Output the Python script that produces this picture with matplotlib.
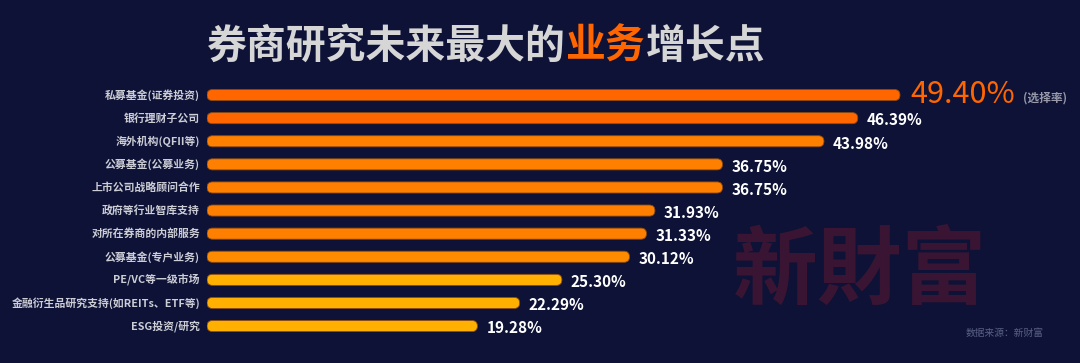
import matplotlib
matplotlib.use("Agg")
import matplotlib.pyplot as plt
from matplotlib.patches import FancyBboxPatch

plt.rcParams['font.family'] = ['Noto Sans CJK SC', 'DejaVu Sans']

categories = ["私募基金(证券投资)", "银行理财子公司", "海外机构(QFII等)", "公募基金(公募业务)",
              "上市公司战略顾问合作", "政府等行业智库支持", "对所在券商的内部服务", "公募基金(专户业务)",
              "PE/VC等一级市场", "金融衍生品研究支持(如REITs、ETF等)", "ESG投资/研究"]
values = [49.40, 46.39, 43.98, 36.75, 36.75, 31.93, 31.33, 30.12, 25.30, 22.29, 19.28]
bar_colors = ["#FF6600", "#FF6600", "#FF8000", "#FF8000", "#FF8000", "#FF8000", "#FF8000",
              "#FF8C00", "#FFB000", "#FFB000", "#FFB000"]

num_family = ['Noto Sans CJK SC', 'DejaVu Sans']

BG = "#0d1236"
W, H = 1080, 363
fig = plt.figure(figsize=(W / 100, H / 100), dpi=100, facecolor=BG)

ax_left, ax_right = 207, 1080
ax_top, ax_bot = 83.5, 337.6
ax = fig.add_axes([ax_left / W, (H - ax_bot) / H, (ax_right - ax_left) / W, (ax_bot - ax_top) / H])
ax.set_facecolor(BG)
ax.axis('off')
n = len(values)
xmax = 49.40 * (ax_right - ax_left) / 693.0
ax.set_xlim(0, xmax)
ax.set_ylim(n - 0.5, -0.5)

ys = list(range(n))
bars = ax.barh(ys, values, height=0.48, color=bar_colors)
px_x = xmax / (ax_right - ax_left)
px_y = n / (ax_bot - ax_top)
for b, c in zip(bars, bar_colors):
    x0, y0 = b.get_x(), b.get_y()
    w, h = b.get_width(), b.get_height()
    b.set_visible(False)
    r = h / 2 / px_y * px_x
    p = FancyBboxPatch((x0, y0), w, h,
                       boxstyle=f"round,pad=0,rounding_size={r}",
                       mutation_aspect=px_y / px_x,
                       facecolor=c, edgecolor="#8a4a10", linewidth=0.6)
    ax.add_patch(p)

for i, (cat, v) in enumerate(zip(categories, values)):
    ax.text(-7 * px_x, i, cat, ha='right', va='center', fontsize=7.8,
            fontweight='bold', color='#cdcdd6')
    if i == 0:
        t = ax.text(v + 10 * px_x, i - 0.02, f"{v:.2f}%", ha='left', va='center', fontsize=22,
                    color='#FF6600', family=num_family)
    else:
        ax.text(v + 9 * px_x, i + 0.1, f"{v:.2f}%", ha='left', va='center', fontsize=11,
                fontweight='bold', color='white', family=num_family)

fig.canvas.draw()
bb0 = t.get_window_extent()
fig.text((bb0.x1 + 8) / W, 1 - 98 / H, "(选择率)", ha='left', va='center', fontsize=8.5,
         color='#9a9aaa', fontweight='bold')

# Title
ty = 1 - 46 / H
t1 = fig.text(207 / W, ty, "券商研究未来最大的", ha='left', va='center',
              fontsize=28.7, fontweight='bold', color='#d6d6d6')
fig.canvas.draw()
bb = t1.get_window_extent()
t2 = fig.text(bb.x1 / W, ty, "业务", ha='left', va='center',
              fontsize=28.7, fontweight='bold', color='#FF6600')
fig.canvas.draw()
bb2 = t2.get_window_extent()
fig.text(bb2.x1 / W, ty, "增长点", ha='left', va='center',
         fontsize=28.7, fontweight='bold', color='#d6d6d6')

# Watermark
fig.text(860 / W, 1 - 272 / H, "新財富", ha='center', va='center', fontsize=61,
         fontweight='bold', color='#3a1533', family=['Noto Sans CJK TC', 'DejaVu Sans'])

fig.text(1044 / W, 1 - 333 / H, "数据来源：新财富", ha='right', va='center', fontsize=7,
         color='#5a5f85')

fig.savefig("out.png", dpi=100, facecolor=BG)
